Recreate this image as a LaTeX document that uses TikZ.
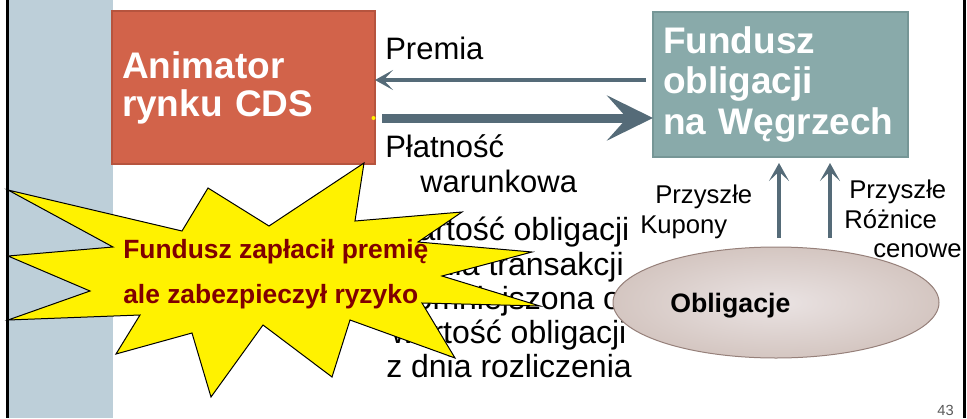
\documentclass[tikz,border=0pt]{standalone}
\usepackage{fontspec}
\setmainfont{Liberation Sans}
\usetikzlibrary{arrows.meta,calc,shapes.geometric}
\definecolor{animred}{RGB}{210,99,74}
\definecolor{animedge}{RGB}{182,84,62}
\definecolor{fundteal}{RGB}{137,170,170}
\definecolor{fundedge}{RGB}{118,150,150}
\definecolor{slate}{RGB}{85,107,120}
\definecolor{stripblue}{RGB}{189,207,217}
\definecolor{burstred}{RGB}{128,0,0}
\definecolor{bondin}{RGB}{234,227,227}
\definecolor{bondout}{RGB}{212,198,193}
\definecolor{bondedge}{RGB}{150,128,122}
\begin{document}
\begin{tikzpicture}[x=0.75pt,y=-0.75pt,
  box/.style={draw,line width=1pt,outer sep=0pt,align=left,text=white,inner xsep=7.5pt,inner ysep=0pt},
  slim/.style={slate,line width=3pt,-{Stealth[length=13.5pt,width=15pt,inset=7pt]}},
  fat/.style={slate,line width=6.75pt,-{Stealth[length=34.5pt,width=33.75pt,inset=15pt]}},
  txt/.style={inner sep=0pt,font={\fontsize{23.25pt}{25.7pt}\selectfont}},
  small/.style={inner sep=0pt,anchor=base west,font={\fontsize{19.25pt}{22pt}\selectfont}},
  burst/.style={fill=yellow,draw=black,line width=0.75pt},
  bursttxt/.style={inner sep=0pt,anchor=base west,text=burstred,font={\fontsize{19.8pt}{24pt}\selectfont\bfseries}}]
\useasboundingbox (0,0) rectangle (967,418);
\fill[stripblue] (9,0) rectangle (113,418);
\draw[line width=2.25pt] (7.5,0) -- (7.5,418) (964.5,0) -- (964.5,418);
\node[box,fill=animred,draw=animedge,text width=182.25pt,minimum height=114.75pt,
  font={\fontsize{27.75pt}{28.5pt}\selectfont\bfseries}] (anim) at (243.5,87.5) {Animator\\rynku CDS};
\node[box,fill=fundteal,draw=fundedge,text width=176.25pt,minimum height=108.75pt,
  font={\fontsize{27.75pt}{30.4pt}\selectfont\bfseries}] (fund) at (780.5,84.5) {Fundusz\\obligacji\\na Węgrzech};
\draw[slim] ($(fund.west)+(-7,-4.5)$) -- ($(anim.east)+(0,-7.5)$);
\draw[fat] ($(anim.east)+(7,30.5)$) -- ($(fund.west)+(0,33.5)$);
\fill[yellow] ($(anim.east)+(-1.5,30.5)$) circle (1.5pt);
\node[txt,anchor=base west] (prem) at (385,59) {Premia};
\node[txt,anchor=base west] (plat) at (385,157) {Płatność};
\node[txt,anchor=base west] (warun) at (420,192) {warunkowa};
\node[txt,align=center,anchor=north,font={\fontsize{24pt}{25.7pt}\selectfont}] (wart) at (509,217) {Wartość obligacji\\z dnia transakcji\\pomniejszona o\\wartość obligacji\\z dnia rozliczenia};
\node[ellipse,draw=bondedge,line width=0.75pt,inner color=bondin,outer color=bondout,
  minimum width=244.5pt,minimum height=83.25pt,inner sep=0pt] (obl) at (776,302.5) {};
\node[inner sep=0pt,anchor=base west,font={\fontsize{20pt}{24pt}\selectfont\bfseries}] (obltxt) at (670,312) {Obligacje};
\foreach \a/\b in {3/-1.5,54/49.5}
  \draw[slim] ($(obl.north)+(\a,-9)$) -- ($(fund.south)+(\b,6)$);
\node[small] (kup1) at (655,203) {Przyszłe};
\node[small] (kup2) at (640,233) {Kupony};
\node[small] (roz1) at (849,198) {Przyszłe};
\node[small] (roz2) at (844,228) {Różnice};
\node[small] (roz3) at (873,257) {cenowe};
\draw[burst] (364,163) -- (355,221) -- (462,212) -- (418,242) -- (532,252) -- (442,276)
  -- (540,306) -- (422,303) -- (455,358) -- (350,320) -- (332,377) -- (263,325)
  -- (211,397) -- (192,333) -- (116,354) -- (140,315) -- (8,320) -- (90,291)
  -- (8,256) -- (113,247) -- (8,190) -- (182,231) -- (208,188) -- (269,226) -- cycle;
\node[bursttxt] (note1) at (123,258) {Fundusz zapłacił premię};
\node[bursttxt] (note2) at (123,303) {ale zabezpieczył ryzyko};
\node[inner sep=0pt,anchor=base east,text=black!65,font={\fontsize{11pt}{13pt}\selectfont}] (page) at (954,415) {43};
\end{tikzpicture}
\end{document}
